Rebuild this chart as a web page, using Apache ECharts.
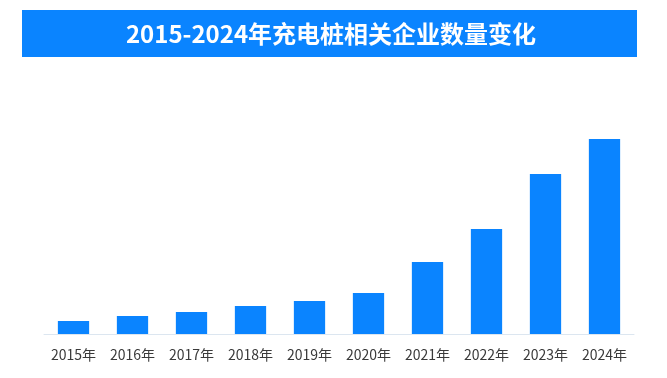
<!DOCTYPE html>
<html><head><meta charset="utf-8">
<script src="https://cdn.jsdelivr.net/npm/echarts@6/dist/echarts.min.js"></script>
<style>html,body{margin:0;padding:0;background:#fff}#c{width:667px;height:378px}</style>
</head><body><div id="c"></div>
<script>
const titleText = '2015-2024年充电桩相关企业数量变化';
const categories = ['2015年','2016年','2017年','2018年','2019年','2020年','2021年','2022年','2023年','2024年'];
const values = [1.3, 1.8, 2.2, 2.8, 3.3, 4.1, 7.2, 10.5, 16.0, 19.5];

const chart = echarts.init(document.getElementById('c'));
chart.setOption({
  animation: false,
  graphic: [
    {type:'rect', shape:{x:22,y:10,width:615,height:47}, style:{fill:'#0A84FF'}},
    {type:'text', x:331, y:34, style:{text:titleText, fill:'#fff', font:'bold 24px "Noto Sans CJK SC"', textAlign:'center', textVerticalAlign:'middle'}}
  ],
  grid: {left:44, right:33, top:139, bottom:44},
  xAxis: {
    type:'category', data:categories,
    axisLine:{lineStyle:{color:'#DCE6F0', width:1}},
    axisTick:{show:false},
    axisLabel:{color:'#3a3a3a', fontSize:14, fontFamily:'"Noto Sans CJK SC"', margin:14}
  },
  yAxis: {type:'value', min:0, max:19.5, show:false, splitLine:{show:false}},
  series: [{type:'bar', data:values, barWidth:'53%', itemStyle:{color:'#0A84FF'}}]
});
</script></body></html>
